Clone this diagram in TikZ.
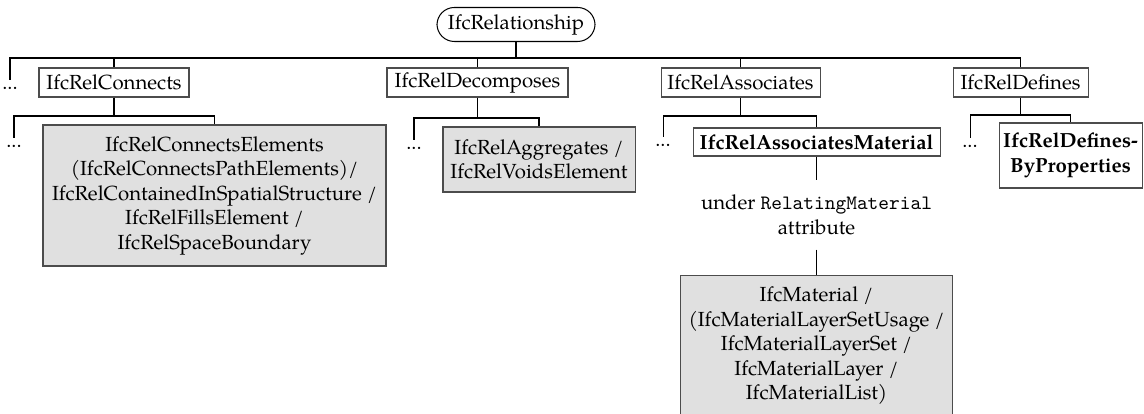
\documentclass[tikz,border=0pt]{standalone}
\usepackage{fontspec}
\setmainfont{TeX Gyre Pagella}
\newdimen\pxunit
\pxunit=0.49pt

\begin{document}
\begin{tikzpicture}[x=0.49pt, y=-0.49pt,
  conn/.style={draw=black, line width=0.5pt},
  box/.style={draw=black!70, line width=0.5pt, inner sep=0pt, align=center,
    minimum height=29*\pxunit},
  rootbox/.style={box, draw=black, rounded corners=8.5pt, minimum height=34*\pxunit},
  leaf/.style={box, fill=black!12},
  boldbox/.style={box, font=\bfseries},
  dotsnode/.style={inner sep=0pt, text height=4.4pt, text depth=0pt, anchor=north},
  note/.style={inner xsep=3pt, inner ysep=7pt, align=center}]
  \useasboundingbox (0,0) rectangle (1144,414);

  % root and first level
  \node[rootbox, minimum width=158*\pxunit] (root) at (516,24.5) {IfcRelationship};
  \node[box, minimum width=150*\pxunit] (con) at (114,82.5) {IfcRelConnects};
  \node[box, minimum width=181*\pxunit] (dec) at (477.5,82.5) {IfcRelDecomposes};
  \node[box, minimum width=159*\pxunit] (ass) at (740.5,82.5) {IfcRelAssociates};
  \node[box, minimum width=135*\pxunit] (def) at (1020.5,82.5) {IfcRelDefines};
  \node[dotsnode] (d0) at (10,80) {...};

  % second level
  \node[leaf, minimum width=343*\pxunit, minimum height=141*\pxunit] (conel) at (214.5,195.5)
    {IfcRelConnectsElements\\(IfcRelConnectsPathElements)/\\IfcRelContainedInSpatialStructure /\\IfcRelFillsElement /\\IfcRelSpaceBoundary};
  \node[leaf, minimum width=192*\pxunit, minimum height=65*\pxunit] (agg) at (539,159.5)
    {IfcRelAggregates /\\IfcRelVoidsElement};
  \node[boldbox, minimum width=247*\pxunit, minimum height=28*\pxunit] (assmat) at (816.5,142)
    {IfcRelAssociatesMaterial};
  \node[boldbox, minimum width=143*\pxunit, minimum height=65*\pxunit] (defprop) at (1070.5,155.5)
    {IfcRelDefines-\\ByProperties};
  \node[dotsnode] (d1) at (14,138) {...};
  \node[dotsnode] (d2) at (414,140) {...};
  \node[dotsnode] (d3) at (663,137) {...};
  \node[dotsnode] (d4) at (970,138) {...};

  % material branch
  \node[note] (under) at (816.5,215) {under \texttt{RelatingMaterial}\\attribute};
  \node[leaf, anchor=north, inner xsep=0pt, inner ysep=5.5pt, minimum width=271*\pxunit] (mat) at (816.5,275)
    {\parbox[t][110pt][t]{133pt}{\centering IfcMaterial /\\(IfcMaterialLayerSetUsage /\\IfcMaterialLayerSet /\\IfcMaterialLayer /\\IfcMaterialList)}};

  % bus points
  \coordinate (bA) at (516,58);
  \coordinate (bCon) at (114,116);
  \coordinate (bDec) at (477.5,118);
  \coordinate (bAss) at (740.5,116);
  \coordinate (bDef) at (1020.5,115);

  % first-level connectors
  \draw[conn] (root.south) -- (bA);
  \draw[conn] (d0.north) |- (bA) -| (def.north);
  \draw[conn] (con.north) -- (con.north |- bA);
  \draw[conn] (dec.north) -- (dec.north |- bA);
  \draw[conn] (ass.north) -- (ass.north |- bA);

  % second-level connectors
  \draw[conn] (con.south) -- (bCon);
  \draw[conn] (d1.north) |- (bCon) -| (conel.north);
  \draw[conn] (dec.south) -- (bDec);
  \draw[conn] (d2.north) |- (bDec) -| (agg.north);
  \draw[conn] (ass.south) -- (bAss);
  \draw[conn] (d3.north) |- (bAss) -| (assmat.north);
  \draw[conn] (def.south) -- (bDef);
  \draw[conn] (d4.north) |- (bDef) -| (defprop.north);

  % attribute link
  \draw[conn] (assmat.south) -- (under.north);
  \draw[conn] (under.south) -- (mat.north);
\end{tikzpicture}
\end{document}
